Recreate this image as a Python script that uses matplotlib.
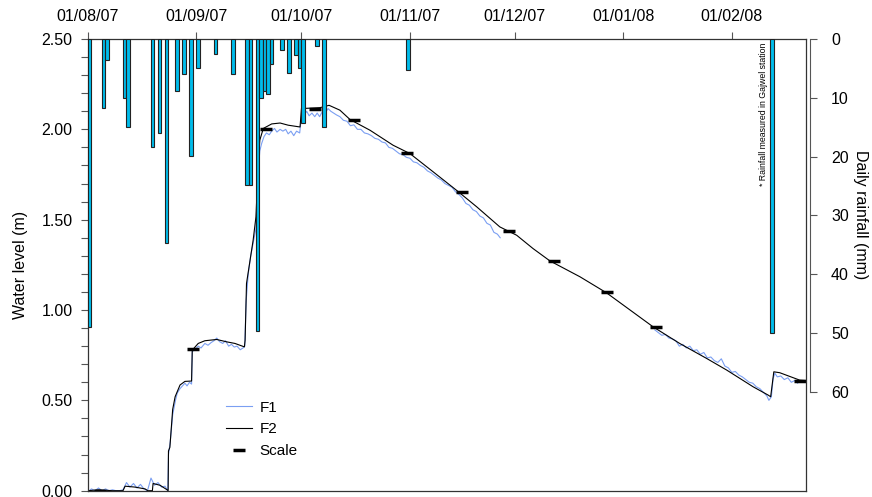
"""
Water level in the two piezometers (F1, F2) with daily rainfall, Aug 2007 - Feb 2008.
Output: out.png
"""
import numpy as np
import pandas as pd
import matplotlib
matplotlib.use("Agg")
import matplotlib.pyplot as plt
import matplotlib.dates as mdates
from matplotlib.lines import Line2D
from matplotlib.ticker import MultipleLocator, FormatStrFormatter

plt.rcParams["font.family"] = ["Liberation Sans", "DejaVu Sans"]

START = pd.Timestamp("2007-08-01")
END_DAY = 205.2

# ----------------------------------------- daily rainfall (mm)
rain_dates = ["2007-08-01", "2007-08-05", "2007-08-06", "2007-08-11", "2007-08-12",
              "2007-08-19", "2007-08-21", "2007-08-23", "2007-08-26", "2007-08-28",
              "2007-08-30", "2007-09-01", "2007-09-06", "2007-09-11", "2007-09-15",
              "2007-09-16", "2007-09-18", "2007-09-19", "2007-09-20", "2007-09-21",
              "2007-09-22", "2007-09-25", "2007-09-27", "2007-09-29", "2007-09-30",
              "2007-10-01", "2007-10-05", "2007-10-07", "2007-10-31", "2008-02-12"]
rain_mm = [49.0, 11.7, 3.5, 10.0, 14.9,
           18.3, 15.9, 34.7, 8.8, 6.0,
           19.9, 5.0, 2.6, 6.0, 24.8,
           24.8, 49.7, 10.0, 8.8, 9.4,
           4.3, 1.8, 5.7, 2.7, 5.0,
           14.2, 1.2, 15.0, 5.2, 50.0]

# ----------------------------------------- F2 (days since 1 Aug 2007, level m)
f2_day = [0, 3, 7, 10, 10.6, 13.4, 16.3, 17.1, 18.4, 18.6, 20.6, 22.6, 22.9,
          23.0, 23.4, 24.2, 24.9, 26.3, 27.7, 29.6, 29.8, 31.5, 33.4, 36.8,
          39.6, 42, 44.7, 44.9, 45.3, 47.2, 48, 48.7, 49.1, 50.1, 52.5, 54.9,
          57.2, 60.6, 61.0, 66.3, 68.9, 72, 74.9, 80.6, 87.2, 92, 98.7, 105.3,
          111.1, 117.7, 122.5, 127.2, 132, 140.6, 148.2, 161.5, 169.1, 176.8,
          182.5, 190.1, 194.4, 195.1, 196, 197.7, 203.4, 205.2]
f2_lvl = [0.0, 0.005, 0.0, 0.0, 0.025, 0.02, 0.01, 0.0, 0.0, 0.04, 0.03, 0.005, 0.0,
          0.22, 0.24, 0.45, 0.52, 0.585, 0.605, 0.607, 0.778, 0.815, 0.83, 0.837,
          0.824, 0.815, 0.796, 0.833, 1.147, 1.387, 1.516, 1.83, 1.94, 2.005, 2.03, 2.035,
          2.023, 2.013, 2.115, 2.12, 2.133, 2.106, 2.054, 1.995, 1.912, 1.866, 1.764, 1.663,
          1.571, 1.46, 1.414, 1.34, 1.272, 1.184, 1.095, 0.907, 0.815, 0.732,
          0.668, 0.575, 0.529, 0.52, 0.658, 0.653, 0.612, 0.61]

# ----------------------------------------- F1 (two recorded stretches)
f1a_day = [0, 1, 2, 3, 4, 5, 6, 7, 8, 9, 10, 11, 12, 13, 14, 15, 16, 17, 18, 19,
           20, 21, 22, 22.8, 23.0, 23.5, 24.2, 25, 25.5, 26.3, 27, 27.7, 28.3, 29,
           29.6, 29.8, 30.5, 31.5, 32.3, 33.4, 34.3, 35.2, 36, 36.8, 37.6, 38.5,
           39.3, 40.2, 41, 41.8, 42.6, 43.5, 44.3, 44.8, 45.2, 45.8, 46.5, 47.2,
           48, 48.6, 49.1, 49.6, 50.3, 51, 51.8, 52.5, 53.3, 54, 54.9, 55.7, 56.5,
           57.2, 58, 58.8, 59.6, 60.5, 61.1, 61.8, 62.5, 63.2, 64, 64.8, 65.5,
           66.2, 67, 67.8, 68.6, 69.4, 70.2, 71, 72, 73, 74, 75, 76, 77, 78, 79,
           80, 81, 82, 83, 84, 85, 86, 87, 88, 89, 90, 91, 92, 93, 94, 95, 96, 97,
           98, 99, 100, 101, 102, 103, 104, 105, 106, 107, 108, 109, 110, 111,
           112, 113, 114, 115, 116, 117, 117.8]
f1a_lvl = [-0.005, 0.01, 0.0, 0.015, 0.0, 0.01, 0.0, 0.005, 0.0, 0.0, 0.005, 0.045,
           0.02, 0.04, 0.015, 0.035, 0.01, 0.0, 0.07, 0.03, 0.045, 0.02, 0.025, 0.0,
           0.2, 0.27, 0.42, 0.5, 0.54, 0.565, 0.58, 0.595, 0.58, 0.6, 0.59, 0.77,
           0.78, 0.8, 0.79, 0.815, 0.805, 0.82, 0.83, 0.845, 0.825, 0.815, 0.83,
           0.8, 0.81, 0.795, 0.8, 0.78, 0.79, 0.8, 1.05, 1.2, 1.3, 1.37, 1.45, 1.75,
           1.88, 1.92, 1.96, 1.98, 1.97, 1.99, 2.005, 1.985, 2.0, 1.99, 2.0, 1.975,
           1.99, 1.965, 1.99, 1.98, 2.09, 2.08, 2.1, 2.075, 2.09, 2.07, 2.09, 2.07,
           2.1, 2.09, 2.115, 2.1, 2.09, 2.08, 2.07, 2.05, 2.045, 2.02, 2.025, 2.0,
           2.0, 1.98, 1.975, 1.965, 1.95, 1.945, 1.93, 1.925, 1.9, 1.895, 1.88,
           1.865, 1.86, 1.845, 1.84, 1.82, 1.815, 1.8, 1.79, 1.77, 1.76, 1.745,
           1.73, 1.72, 1.7, 1.69, 1.68, 1.655, 1.64, 1.62, 1.59, 1.58, 1.555,
           1.545, 1.52, 1.51, 1.48, 1.47, 1.43, 1.42, 1.4]
f1b_day = [162, 163, 164, 165, 166, 167, 168, 169, 170, 171, 172, 173, 174, 175,
           176, 177, 178, 179, 180, 181, 182, 183, 184, 185, 186, 187, 188, 189,
           190, 191, 192, 193, 194, 194.6, 195.3, 195.8, 196.3, 197, 198, 199,
           200, 201, 202, 202.8]
f1b_lvl = [0.89, 0.875, 0.86, 0.865, 0.845, 0.84, 0.83, 0.8, 0.81, 0.79, 0.8, 0.775,
           0.78, 0.755, 0.765, 0.735, 0.74, 0.72, 0.71, 0.73, 0.69, 0.68, 0.655,
           0.66, 0.64, 0.63, 0.615, 0.6, 0.595, 0.575, 0.565, 0.545, 0.525, 0.5,
           0.52, 0.62, 0.65, 0.63, 0.635, 0.615, 0.625, 0.6, 0.61, 0.595]

# ----------------------------------------- manual scale readings
scale_day = [3.5, 29.9, 50.9, 64.9, 75.9, 91.2, 107, 120.4, 133.3, 148.3, 162.4, 203.6]
scale_lvl = [0.0, 0.784, 2.0, 2.115, 2.05, 1.87, 1.654, 1.438, 1.272, 1.1, 0.907, 0.608]


def to_dates(days):
    return START + pd.to_timedelta(np.asarray(days, dtype=float), unit="D")


F1_COLOR = "#7B9FF2"
BAR_COLOR = "#00BCEB"

fig = plt.figure(figsize=(8.72, 4.97), dpi=100)
W, H = 872, 497
ax = fig.add_axes([88 / W, 1 - 490.7 / H, (806 - 88) / W, (490.7 - 39) / H])

ax.plot(to_dates(f1a_day), f1a_lvl, color=F1_COLOR, lw=0.8)
ax.plot(to_dates(f1b_day), f1b_lvl, color=F1_COLOR, lw=0.8)
ax.plot(to_dates(f2_day), f2_lvl, color="black", lw=0.8)
ax.plot(to_dates(scale_day), scale_lvl, ls="none", marker="_", ms=8, mew=2.5,
        color="black")

ax.set_xlim(START, START + pd.Timedelta(days=END_DAY))
ax.set_ylim(0, 2.5)
ax.yaxis.set_major_locator(MultipleLocator(0.5))
ax.yaxis.set_minor_locator(MultipleLocator(0.1))
ax.yaxis.set_major_formatter(FormatStrFormatter("%.2f"))
ax.tick_params(axis="y", which="both", direction="out", length=5, width=0.8,
               labelsize=11.5, pad=6, color="#555555")
ax.set_ylabel("Water level (m)", fontsize=11.5, labelpad=10)

ax.xaxis.tick_top()
ax.xaxis.set_major_locator(mdates.MonthLocator())
ax.xaxis.set_major_formatter(mdates.DateFormatter("%d/%m/%y"))
ax.tick_params(axis="x", direction="out", length=5, width=0.8, labelsize=11.5,
               pad=6, color="#555555")
for sp in ax.spines.values():
    sp.set_linewidth(0.9)
    sp.set_color("#333333")

# ----------------------------------------- rainfall on a twin axis
ax2 = ax.twinx()
ax2.bar(pd.to_datetime(rain_dates), rain_mm, width=1.0, align="edge",
        color=BAR_COLOR, edgecolor="#222222", linewidth=0.8)
ax2.set_ylim(76.8, 0)
ax2.set_yticks(np.arange(0, 61, 10))
ax2.spines["right"].set_position(("outward", 3))
ax2.spines["right"].set_bounds(0, 60)
ax2.spines["right"].set_color("#555555")
for k in ["top", "bottom", "left"]:
    ax2.spines[k].set_visible(False)
ax2.tick_params(axis="y", direction="out", length=5, width=0.8, labelsize=11.5,
                pad=10, color="#555555")
ax2.set_ylabel("Daily rainfall (mm)", fontsize=11.5, rotation=270, labelpad=14)
# centre the label on the 0-60 part of the rainfall axis
ax2.yaxis.label.set_y((490.7 - 215) / (490.7 - 39))

ax2.text((763 - 88) / (806 - 88), (490.7 - 43) / (490.7 - 39),
         "* Rainfall measured in Gajwel station", transform=ax2.transAxes,
         rotation=90, ha="center", va="top", fontsize=6.3)

handles = [Line2D([], [], color=F1_COLOR, lw=0.8),
           Line2D([], [], color="black", lw=0.8),
           Line2D([], [], ls="none", marker="_", ms=8, mew=2.5, color="black")]
fig.legend(handles, ["F1", "F2", "Scale"], loc="upper left",
           bbox_to_anchor=(212 / W, 1 - 387 / H), frameon=False, fontsize=11,
           handlelength=1.7, handletextpad=0.5, labelspacing=0.5)

fig.savefig("out.png", dpi=100)
